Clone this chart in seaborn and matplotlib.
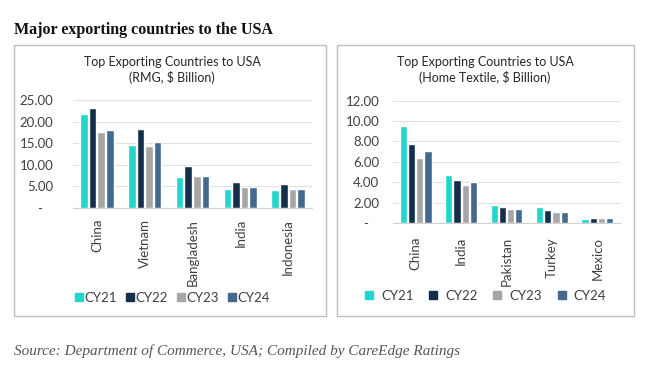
import pandas as pd
import numpy as np
import seaborn as sns
from matplotlib import pyplot as plt
from matplotlib.patches import Rectangle
from matplotlib.lines import Line2D

# data
years = ["CY21", "CY22", "CY23", "CY24"]
palette = ["#22D5CE", "#132F4C", "#A6A6A6", "#44698F"]

rmg_countries = ["China", "Vietnam", "Bangladesh", "India", "Indonesia"]
rmg_cy21 = [21.7, 14.5, 7.1, 4.3, 4.1]
rmg_cy22 = [23.2, 18.3, 9.7, 5.9, 5.6]
rmg_cy23 = [17.6, 14.3, 7.4, 4.8, 4.3]
rmg_cy24 = [18.0, 15.2, 7.4, 4.9, 4.3]

ht_countries = ["China", "India", "Pakistan", "Turkey", "Mexico"]
ht_cy21 = [9.5, 4.74, 1.74, 1.57, 0.42]
ht_cy22 = [7.8, 4.2, 1.6, 1.28, 0.49]
ht_cy23 = [6.4, 3.7, 1.33, 1.06, 0.52]
ht_cy24 = [7.07, 4.0, 1.4, 1.1, 0.45]


def long_form(countries, series):
    rows = []
    for yr, vals in zip(years, series):
        for c, v in zip(countries, vals):
            rows.append({"Country": c, "Year": yr, "Value": v})
    return pd.DataFrame(rows)


df_rmg = long_form(rmg_countries, [rmg_cy21, rmg_cy22, rmg_cy23, rmg_cy24])
df_ht = long_form(ht_countries, [ht_cy21, ht_cy22, ht_cy23, ht_cy24])

sns.set_style("white")
plt.rcParams['font.family'] = ['Lato', 'DejaVu Sans']

W, H = 650, 365
fig = plt.figure(figsize=(6.5, 3.65), dpi=100)


def fx(px):
    return px / W


def fy(py):
    return 1 - py / H


# panel frames
for x0, x1 in [(14, 326), (337, 634)]:
    fig.patches.append(Rectangle((fx(x0), fy(316)), fx(x1 - x0), (316 - 45) / H,
                                 transform=fig.transFigure, fill=False,
                                 edgecolor="#BFBFBF", linewidth=1))


def draw_panel(df, countries, rect, ymax, step, title, title_x, legend_y,
               ypad, xpad, textpad, colspace):
    ax = fig.add_axes(rect)
    sns.barplot(data=df, x="Country", y="Value", hue="Year", order=countries,
                hue_order=years, palette=palette, width=0.72, gap=0.12,
                saturation=1, legend=False, ax=ax)
    ax.set_ylim(0, ymax)
    ticks = np.arange(0, ymax + 0.01, step)
    ax.set_yticks(ticks)
    ax.set_yticklabels(["-   " if t == 0 else "%.2f" % t for t in ticks], fontsize=9.5, color="#404040")
    ax.set_xticks(range(len(countries)))
    ax.set_xticklabels(countries, rotation=90, fontsize=9.5, color="#404040", va="top")
    ax.tick_params(axis="y", length=0, pad=ypad)
    ax.tick_params(axis="x", length=0, pad=xpad)
    ax.yaxis.grid(True, color="#E0E0E0", linewidth=0.8)
    ax.set_axisbelow(True)
    for s in ["top", "right", "left"]:
        ax.spines[s].set_visible(False)
    ax.spines["bottom"].set_color("#D0D0D0")
    ax.set_xlabel("")
    ax.set_ylabel("")
    fig.text(fx(title_x), fy(70), title, ha="center", va="center",
             fontsize=9, color="#262626", linespacing=1.3)
    handles = [Line2D([], [], marker="s", linestyle="", color=c, markersize=5.5) for c in palette]
    fig.legend(handles, years, loc="center", bbox_to_anchor=(fx(title_x), fy(legend_y)),
               ncol=4, frameon=False, fontsize=9.5, handletextpad=textpad, handlelength=0.8,
               columnspacing=colspace, labelcolor="#404040", borderpad=0)
    return ax


draw_panel(df_rmg, rmg_countries,
           [fx(73), fy(207.7), fx(312 - 73), (207.7 - 100) / H],
           25, 5, "Top Exporting Countries to USA\n(RMG, $ Billion)", 172, 298,
           14, 8, 0.0, 0.6)
draw_panel(df_ht, ht_countries,
           [fx(393), fy(223), fx(620 - 393), (223 - 100.7) / H],
           12, 2, "Top Exporting Countries to USA\n(Home Textile, $ Billion)", 485, 296,
           10, 10, 0.5, 1.1)

fig.text(fx(14), fy(30), "Major exporting countries to the USA", fontsize=11.5,
         fontweight="bold", family="Liberation Serif", color="#111111", va="center")
fig.text(fx(14), fy(351), "Source: Department of Commerce, USA; Compiled by CareEdge Ratings",
         fontsize=11, style="italic", family="Liberation Serif", color="#555555", va="center")

fig.savefig("out.png", dpi=100)
